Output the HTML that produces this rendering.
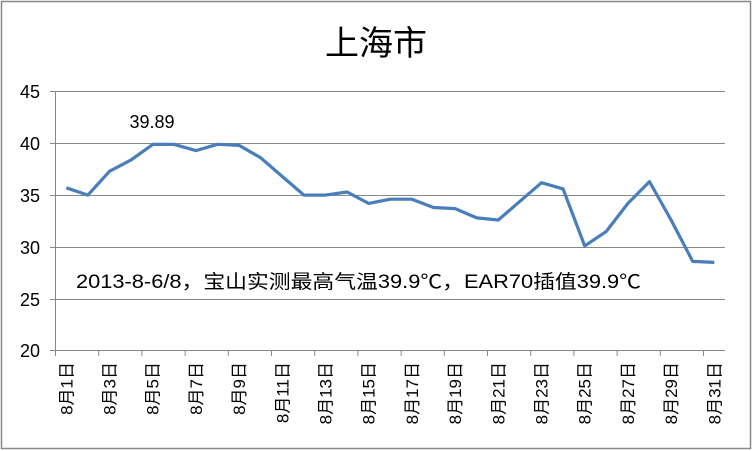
<!DOCTYPE html>
<html><head><meta charset="utf-8"><style>
body{margin:0;background:#fff}
svg{display:block;font-family:"Liberation Sans","Noto Sans CJK SC",sans-serif}
</style></head><body>
<svg width="753" height="451" viewBox="0 0 753 451">
<rect x="1.5" y="1.5" width="749" height="447" fill="#fff" stroke="#888" stroke-width="1.5"/>
<text x="376" y="55" font-size="34" text-anchor="middle" fill="#000">上海市</text>
<g stroke="#888" stroke-width="1">
<line x1="50" x2="725" y1="91.5" y2="91.5"/>
<line x1="50" x2="725" y1="143.5" y2="143.5"/>
<line x1="50" x2="725" y1="195.5" y2="195.5"/>
<line x1="50" x2="725" y1="247.5" y2="247.5"/>
<line x1="50" x2="725" y1="299.5" y2="299.5"/>
<line x1="50" x2="725" y1="350.5" y2="350.5"/>
<line x1="55.5" x2="55.5" y1="91" y2="356"/>
</g>
<g stroke="#888" id="ticks"></g>
<g font-size="18" text-anchor="end" fill="#000">
<text x="40" y="98">45</text><text x="40" y="150">40</text><text x="40" y="202">35</text>
<text x="40" y="254">30</text><text x="40" y="306">25</text><text x="40" y="357">20</text>
</g>
<g id="xl" font-size="17" fill="#000"></g>
<polyline id="ln" fill="none" stroke="#4A7EBB" stroke-width="3.2" stroke-linejoin="round"/>
<text x="152" y="128" font-size="18" text-anchor="middle">39.89</text>
<text x="76" y="288" font-size="19" textLength="565" lengthAdjust="spacingAndGlyphs">2013-8-6/8，宝山实测最高气温39.9℃，EAR70插值39.9℃</text>
</svg>
<script>
var d=[35.7,35.0,37.3,38.4,39.89,39.89,39.3,39.9,39.8,38.6,36.8,35.0,35.0,35.3,34.2,34.6,34.6,33.8,33.7,32.8,32.6,34.4,36.2,35.6,30.1,31.5,34.2,36.3,32.6,28.6,28.5];
var w=21.6,x0=55.5,pts=[];
function X(i){return x0+w*(i+0.5)}
function Y(v){return 350.5-(v-20)*10.36}
d.forEach(function(v,i){pts.push(X(i).toFixed(1)+","+Y(v).toFixed(1))});
document.getElementById("ln").setAttribute("points",pts.join(" "));
var ns="http://www.w3.org/2000/svg",t=document.getElementById("ticks"),xl=document.getElementById("xl");
for(var k=0;k<=31;k+=2){var l=document.createElementNS(ns,"line");var xx=x0+k*w;l.setAttribute("x1",xx);l.setAttribute("x2",xx);l.setAttribute("y1",350);l.setAttribute("y2",356);t.appendChild(l);}
for(var i=0;i<31;i+=2){var tx=document.createElementNS(ns,"text");var cx=X(i)+6;tx.setAttribute("transform","translate("+cx+",362) rotate(-90)");tx.setAttribute("text-anchor","end");tx.textContent="8月"+(i+1)+"日";xl.appendChild(tx);}
</script>
</body></html>
